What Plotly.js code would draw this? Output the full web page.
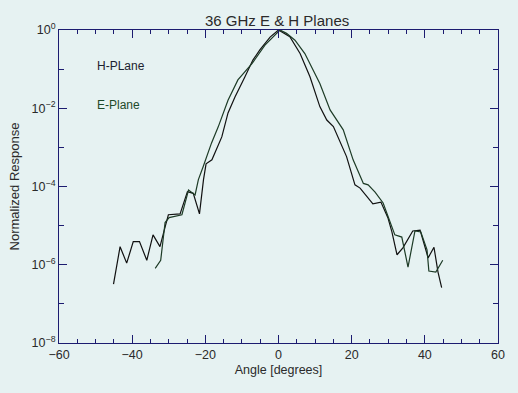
<!DOCTYPE html>
<html>
<head>
<meta charset="utf-8">
<script src="https://cdn.plot.ly/plotly-3.0.1.min.js"></script>
<style>
html,body{margin:0;padding:0;background:#e6f2f2;}
#chart{width:518px;height:393px;}
</style>
</head>
<body>
<div id="chart"></div>
<script>
// H-Plane (angle in degrees, normalized response)
var hAngle = [-45.1,-43.3,-41.5,-39.7,-38.0,-36.0,-34.3,-32.4,-30.9,-30.1,-26.9,-24.9,-23.3,-21.6,-20.5,-19.8,-18.2,-15.5,-13.8,-11.9,-9.2,-7.0,-5.1,-2.3,0.0,3.1,5.9,8.6,11.3,13.2,15.0,18.6,20.9,22.3,25.8,28.0,29.9,31.0,32.4,34.0,36.7,38.7,40.9,42.5,43.6,44.6];
var hResp  = [3.2e-7,2.9e-6,1.1e-6,3.9e-6,3.9e-6,1.3e-6,5.8e-6,2.9e-6,1.0e-5,1.9e-5,2.0e-5,7.4e-5,6.7e-5,2.0e-5,1.5e-4,3.8e-4,4.8e-4,1.85e-3,7.6e-3,1.95e-2,6.3e-2,0.17,0.31,0.66,1.0,0.67,0.25,0.064,0.011,5.0e-3,3.4e-3,5.8e-4,1.1e-4,9.1e-5,3.6e-5,4.0e-5,1.6e-5,6.9e-6,1.8e-6,2.7e-6,7.3e-6,7.7e-6,1.5e-6,2.8e-6,6.5e-7,2.6e-7];
// E-Plane
var eAngle = [-33.7,-32.2,-31.0,-29.9,-26.4,-24.6,-22.8,-21.9,-20.6,-18.3,-16.5,-13.8,-11.1,-7.2,-3.7,0.4,2.2,4.5,7.2,9.5,11.3,14.1,17.7,20.4,23.2,24.5,26.4,28.6,31.8,33.7,35.4,37.3,38.9,40.6,41.1,43.0,44.9];
var eResp  = [8.1e-7,1.3e-6,1.2e-5,1.6e-5,1.9e-5,8.1e-5,6.1e-5,1.5e-4,3.2e-4,1.3e-3,3.3e-3,1.6e-2,5.3e-2,0.14,0.41,1.0,0.82,0.55,0.25,0.095,0.043,9.1e-3,2.8e-3,4.8e-4,1.2e-4,1.1e-4,7.2e-5,3.8e-5,5.8e-6,5.1e-6,8.7e-7,7.3e-6,6.9e-6,2.4e-6,6.9e-7,6.5e-7,1.3e-6];

var xTickVals = [-60,-40,-20,0,20,40,60];
var yTickVals = [1, 1e-2, 1e-4, 1e-6, 1e-8];
var yTickText = ['10<sup>0</sup>','10<sup>\u22122</sup>','10<sup>\u22124</sup>','10<sup>\u22126</sup>','10<sup>\u22128</sup>'];
var seriesNames = ['H-PLane','E-Plane'];

var axisColor = '#1c1c70';
var textColor = '#2a2a2a';
var fontFam = '"Liberation Sans", Arial, sans-serif';

var traces = [
  {x: hAngle, y: hResp, mode: 'lines', name: seriesNames[0], line: {color: '#111111', width: 1.2}},
  {x: eAngle, y: eResp, mode: 'lines', name: seriesNames[1], line: {color: '#1d3b26', width: 1.2}}
];

var layout = {
  width: 518, height: 393,
  margin: {l: 59, r: 20, t: 30, b: 50},
  paper_bgcolor: '#e6f2f2',
  plot_bgcolor: '#e6f2f2',
  showlegend: false,
  font: {family: fontFam, size: 12, color: textColor},
  title: {text: '36 GHz E &amp; H Planes', x: 0.535, xanchor: 'center', y: 0.948, yanchor: 'middle', font: {size: 15, color: textColor}},
  xaxis: {
    range: [-60, 60], tickvals: xTickVals, ticks: 'inside', ticklen: 8, tickcolor: axisColor,
    showline: true, linecolor: axisColor, linewidth: 1, mirror: 'allticks', showgrid: false, zeroline: false,
    minor: {dtick: 5, ticks: 'inside', ticklen: 4, tickcolor: axisColor},
    tickfont: {size: 12.5, color: textColor},
    title: {text: 'Angle [degrees]', font: {size: 12.5, color: textColor}, standoff: 4}
  },
  yaxis: {
    type: 'log', range: [-8, 0], tickvals: yTickVals, ticktext: yTickText, ticks: 'inside', ticklen: 8, tickcolor: axisColor,
    showline: true, linecolor: axisColor, linewidth: 1, mirror: 'allticks', showgrid: false, zeroline: false,
    minor: {dtick: 1, ticks: 'inside', ticklen: 5, tickcolor: axisColor},
    tickfont: {size: 12.5, color: textColor},
    title: {text: 'Normalized Response', font: {size: 13, color: textColor}, standoff: 9}
  },
  annotations: [
    {xref: 'x', yref: 'y', x: -50.1, y: -0.91, text: seriesNames[0], showarrow: false, xanchor: 'left', yanchor: 'middle', font: {size: 12, color: '#1c2230'}},
    {xref: 'x', yref: 'y', x: -50.1, y: -1.92, text: seriesNames[1], showarrow: false, xanchor: 'left', yanchor: 'middle', font: {size: 12, color: '#1e4a2a'}}
  ]
};

Plotly.newPlot('chart', traces, layout, {displayModeBar: false, staticPlot: true});
</script>
</body>
</html>
